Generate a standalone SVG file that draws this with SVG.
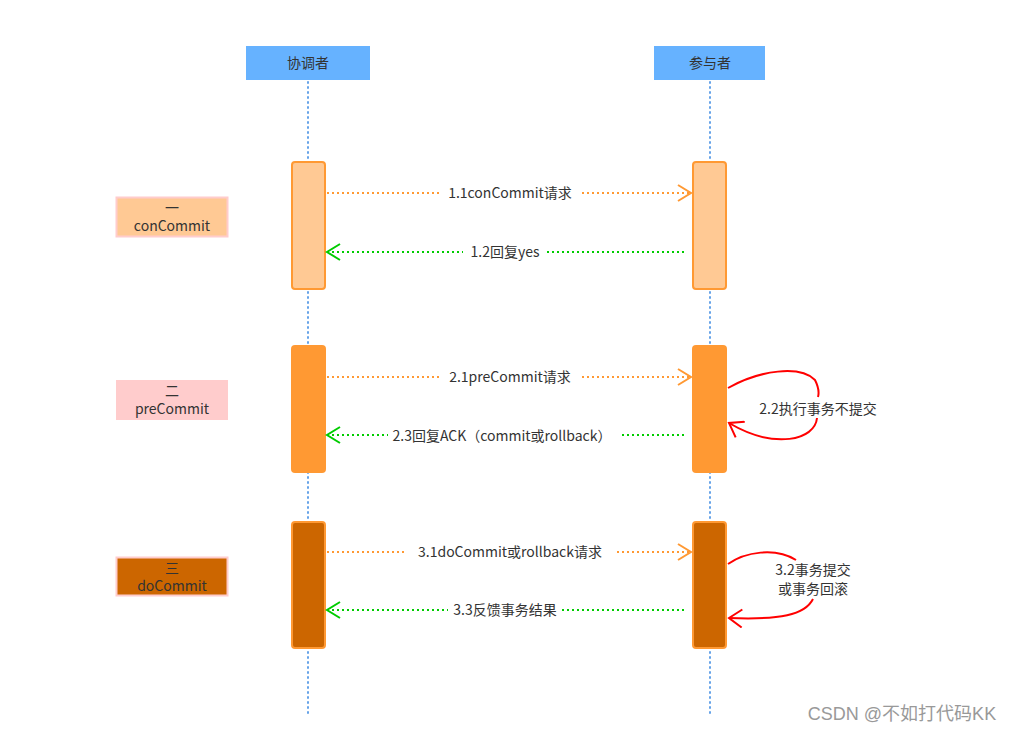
<svg xmlns="http://www.w3.org/2000/svg" width="1017" height="733" viewBox="0 0 1017 733">
<defs>
<style>
text{font-family:"Noto Sans CJK SC","Liberation Sans",sans-serif;font-size:14px;fill:#333;text-anchor:middle}
.life{stroke:#66a3e8;stroke-width:2;stroke-dasharray:1 4;stroke-linecap:round;fill:none}
.hdr{fill:#66b2ff}
.or{stroke:#ff9933;stroke-width:2;stroke-dasharray:2 3;fill:none}
.gr{stroke:#00cc00;stroke-width:2;stroke-dasharray:2 3;fill:none}
.loop{stroke:#ff0000;stroke-width:2;fill:none}
.lbl{fill:#fff}
</style>
<marker id="ao" markerWidth="16" markerHeight="18" refX="14" refY="9" orient="auto" markerUnits="userSpaceOnUse"><path d="M1,1 L14,9 L1,17" fill="none" stroke="#ff9933" stroke-width="2"/></marker>
<marker id="ag" markerWidth="16" markerHeight="18" refX="14" refY="9" orient="auto" markerUnits="userSpaceOnUse"><path d="M1,1 L14,9 L1,17" fill="none" stroke="#00cc00" stroke-width="2"/></marker>
<marker id="ar" markerWidth="16" markerHeight="20" refX="14" refY="10" orient="auto" markerUnits="userSpaceOnUse"><path d="M1,1 L14,10 L1,19" fill="none" stroke="#ff0000" stroke-width="2"/></marker>
</defs>
<rect width="1017" height="733" fill="#fff"/>
<g id="lifelines">
<line class="life" x1="308" y1="82" x2="308" y2="714"/>
<line class="life" x1="710" y1="82" x2="710" y2="714"/>
</g>
<g id="coordinator"><rect class="hdr" x="246" y="46" width="124" height="34"/><text x="308" y="68">协调者</text></g>
<g id="participant"><rect class="hdr" x="654" y="46" width="111" height="34"/><text x="710" y="68">参与者</text></g>
<g id="phase1"><rect x="116.5" y="197.5" width="111" height="39" fill="#ffc994" stroke="#ffcccc" stroke-width="2"/><text x="172" y="213">一</text><text x="172" y="231">conCommit</text></g>
<g id="phase2"><rect x="116" y="380" width="112" height="40" fill="#ffcccc"/><text x="172" y="396">二</text><text x="172" y="414">preCommit</text></g>
<g id="phase3"><rect x="116.5" y="557.5" width="111" height="38" fill="#cc6600" stroke="#ffcccc" stroke-width="2"/><text x="172" y="573">三</text><text x="172" y="591">doCommit</text></g>
<g id="act-c1"><rect x="292" y="162" width="33" height="127" rx="3" fill="#ffc994" stroke="#ff9933" stroke-width="2"/></g>
<g id="act-p1"><rect x="693" y="162" width="33" height="127" rx="3" fill="#ffc994" stroke="#ff9933" stroke-width="2"/></g>
<g id="act-c2"><rect x="291" y="345" width="35" height="128" rx="4" fill="#ff9933"/></g>
<g id="act-p2"><rect x="692" y="345" width="35" height="128" rx="4" fill="#ff9933"/></g>
<g id="act-c3"><rect x="292" y="522" width="33" height="126" rx="3" fill="#cc6600" stroke="#ff9933" stroke-width="2"/></g>
<g id="act-p3"><rect x="693" y="522" width="33" height="126" rx="3" fill="#cc6600" stroke="#ff9933" stroke-width="2"/></g>
<g id="connectors">
<line class="or" x1="327" y1="193" x2="691" y2="193" marker-end="url(#ao)"/>
<line class="gr" x1="684" y1="252" x2="327" y2="252" marker-end="url(#ag)"/>
<line class="or" x1="327" y1="377" x2="691" y2="377" marker-end="url(#ao)"/>
<line class="gr" x1="684" y1="435" x2="327" y2="435" marker-end="url(#ag)"/>
<line class="or" x1="327" y1="552" x2="691" y2="552" marker-end="url(#ao)"/>
<line class="gr" x1="684" y1="610" x2="327" y2="610" marker-end="url(#ag)"/>
<path class="loop" d="M728,388 C760,370 800,365 815,380 Q820,390 818,397"/>
<path class="loop" d="M817,418 C815,440 775,450 729,423" marker-end="url(#ar)"/>
<path class="loop" d="M728,564 C745,552 775,547 796,560"/>
<path class="loop" d="M813,599 C805,615 780,620 729,618" marker-end="url(#ar)"/>
</g>
<g id="labels">
<rect class="lbl" x="439" y="184" width="142" height="18"/><text x="510" y="198">1.1conCommit请求</text>
<rect class="lbl" x="463" y="243" width="84" height="18"/><text x="505" y="257">1.2回复yes</text>
<rect class="lbl" x="439" y="368" width="142" height="18"/><text x="510" y="382">2.1preCommit请求</text>
<rect class="lbl" x="388" y="426" width="232" height="18"/><text x="502" y="441">2.3回复ACK（commit或rollback）</text>
<rect class="lbl" x="405" y="543" width="210" height="18"/><text x="510" y="557">3.1doCommit或rollback请求</text>
<rect class="lbl" x="448" y="601" width="114" height="18"/><text x="505" y="615">3.3反馈事务结果</text>
<text x="818" y="414">2.2执行事务不提交</text>
<text x="813" y="575">3.2事务提交</text>
<text x="813" y="594">或事务回滚</text>
</g>
<text x="902" y="720" style="font-family:'Liberation Sans','Noto Sans CJK SC',sans-serif;font-size:18px;fill:#999">CSDN @不如打代码KK</text>
</svg>
